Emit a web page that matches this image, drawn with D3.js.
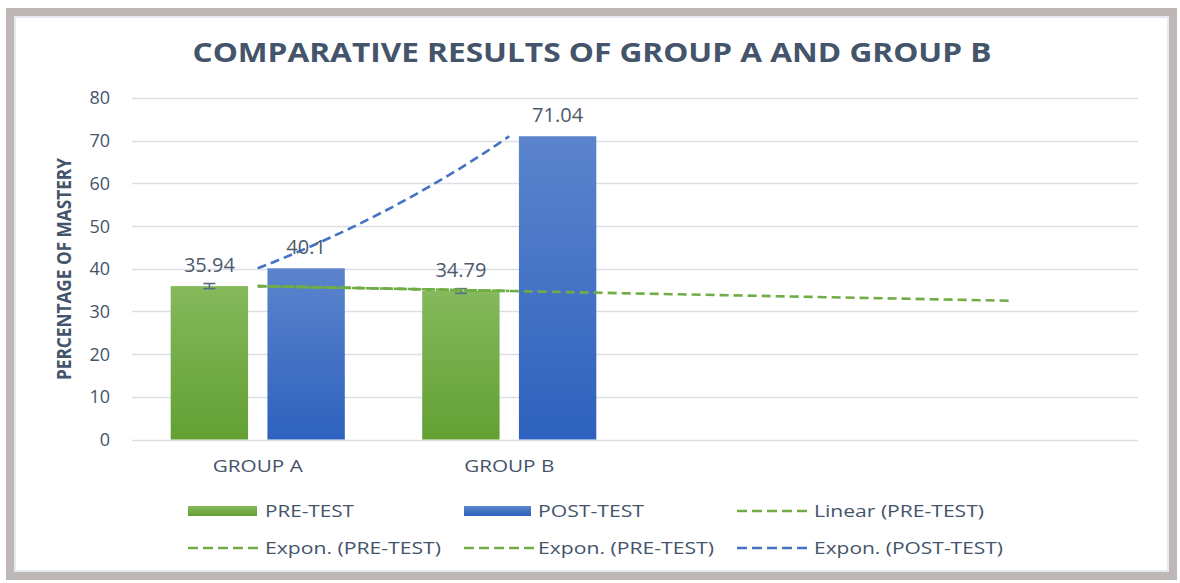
<!DOCTYPE html>
<html>
<head>
<meta charset="utf-8">
<script src="https://cdn.jsdelivr.net/npm/d3@7"></script>
<style>
  html, body { margin: 0; padding: 0; background: #ffffff; }
  svg { display: block; }
  text { font-family: "Open Sans", "Liberation Sans", sans-serif; }
</style>
</head>
<body>
<svg id="chart" width="1180" height="583"></svg>
<script>
// ---------------- data ----------------
const categories = ["GROUP A", "GROUP B", "", ""];
const seriesNames = ["PRE-TEST", "POST-TEST"];
const preTest = [35.94, 34.79];
const postTest = [40.1, 71.04];
const preErrors = [0.6, 0.55];
const yTicks = [0, 10, 20, 30, 40, 50, 60, 70, 80];
const legendRow1 = ["PRE-TEST", "POST-TEST", "Linear (PRE-TEST)"];
const legendRow2 = ["Expon. (PRE-TEST)", "Expon. (PRE-TEST)", "Expon. (POST-TEST)"];
const titleText = "COMPARATIVE RESULTS OF GROUP A AND GROUP B";
const yTitle = "PERCENTAGE OF MASTERY";

// ---------------- setup ----------------
const svg = d3.select("#chart");
const textColor = "#44546a";
const green = "#70ad47", blue = "#4472c4";

function fitText(sel, len) {
  sel.attr("textLength", len).attr("lengthAdjust", "spacingAndGlyphs");
  return sel;
}

// frame
svg.append("rect").attr("x", 10).attr("y", 12).attr("width", 1163).attr("height", 564)
  .attr("fill", "#ffffff").attr("stroke", "#bdb8b6").attr("stroke-width", 8);
svg.append("rect").attr("x", 15).attr("y", 17).attr("width", 1153).attr("height", 554)
  .attr("fill", "none").attr("stroke", "#dde4ec").attr("stroke-width", 1.5);

const defs = svg.append("defs");
function grad(id, top, bottom) {
  const g = defs.append("linearGradient").attr("id", id)
    .attr("x1", 0).attr("y1", 0).attr("x2", 0).attr("y2", 1);
  g.append("stop").attr("offset", "0%").attr("stop-color", top);
  g.append("stop").attr("offset", "100%").attr("stop-color", bottom);
}
grad("gGreen", "#85b95c", "#62a033");
grad("gBlue", "#5b84cc", "#2e62be");

// scales
const x = d3.scaleBand().domain(d3.range(categories.length)).range([132, 1138]).padding(0);
const xs = d3.scaleBand().domain(seriesNames).range([0, x.bandwidth()]).paddingInner(0.2).paddingOuter(0.4);
const y = d3.scaleLinear().domain([0, 80]).range([439.5, 98]);

// title
fitText(svg.append("text").attr("x", 592).attr("y", 62).attr("text-anchor", "middle")
  .attr("font-size", 27).attr("font-weight", 700).attr("fill", textColor).text(titleText), 799);

// gridlines
svg.append("g").selectAll("line").data(yTicks).join("line")
  .attr("x1", 132).attr("x2", 1138)
  .attr("y1", d => Math.round(y(d)) + 0.5).attr("y2", d => Math.round(y(d)) + 0.5)
  .attr("stroke", "#dbe0e7").attr("stroke-width", 1.5);

// y tick labels
svg.append("g").selectAll("text").data(yTicks).join("text")
  .attr("x", 110).attr("y", d => y(d)).attr("dy", "0.36em").attr("text-anchor", "end")
  .attr("font-size", 18).attr("fill", textColor).text(d => d);

// y title
fitText(svg.append("text").attr("transform", "translate(71,269) rotate(-90)")
  .attr("text-anchor", "middle").attr("font-size", 19).attr("font-weight", 700)
  .attr("fill", textColor).text(yTitle), 222);

// category labels
svg.append("g").selectAll("text").data(categories.map((c, i) => ({c, i})).filter(d => d.c))
  .join("text")
  .attr("x", d => x(d.i) + x.bandwidth() / 2).attr("y", 472).attr("text-anchor", "middle")
  .attr("font-size", 17).attr("fill", textColor)
  .each(function (d) { fitText(d3.select(this), 90); })
  .text(d => d.c);

// bars
const barData = [];
preTest.forEach((v, i) => barData.push({ i, s: "PRE-TEST", v }));
postTest.forEach((v, i) => barData.push({ i, s: "POST-TEST", v }));
svg.append("g").selectAll("rect").data(barData).join("rect")
  .attr("x", d => x(d.i) + xs(d.s))
  .attr("y", d => y(d.v))
  .attr("width", xs.bandwidth())
  .attr("height", d => y(0) - y(d.v))
  .attr("fill", d => d.s === "PRE-TEST" ? "url(#gGreen)" : "url(#gBlue)");

// error bars on pre-test
const eb = svg.append("g").attr("stroke", "#5b6b82").attr("stroke-width", 1.6);
preTest.forEach((v, i) => {
  const cx = x(i) + xs("PRE-TEST") + xs.bandwidth() / 2;
  const e = preErrors[i];
  eb.append("line").attr("x1", cx).attr("x2", cx).attr("y1", y(v + e)).attr("y2", y(v - e));
  eb.append("line").attr("x1", cx - 6).attr("x2", cx + 6).attr("y1", y(v + e)).attr("y2", y(v + e));
  eb.append("line").attr("x1", cx - 6).attr("x2", cx + 6).attr("y1", y(v - e)).attr("y2", y(v - e));
});

// trendlines
const cxCat = t => x(0) + x.bandwidth() / 2 + t * x.step();
const line = d3.line().x(d => cxCat(d[0])).y(d => y(d[1]));
const steps = d3.range(0, 1.0001, 0.05);

// linear fit of pre-test (x = 0,1), extended to last category
const slope = preTest[1] - preTest[0];
const linPts = [[0, preTest[0]], [categories.length - 1, preTest[0] + slope * (categories.length - 1)]];
// exponential fits
const expPre = steps.map(t => [t, preTest[0] * Math.pow(preTest[1] / preTest[0], t)]);
const expPost = steps.map(t => [t, postTest[0] * Math.pow(postTest[1] / postTest[0], t)]);

const tg = svg.append("g").attr("fill", "none").attr("stroke-width", 2.6).attr("stroke-dasharray", "9,5");
tg.append("path").attr("d", line(linPts)).attr("stroke", green);
tg.append("path").attr("d", line(expPre)).attr("stroke", green);
tg.append("path").attr("d", line(expPre)).attr("stroke", green).attr("stroke-dashoffset", 4);
tg.append("path").attr("d", line(expPost)).attr("stroke", blue);

// data labels
svg.append("g").selectAll("text").data(barData).join("text")
  .attr("x", d => x(d.i) + xs(d.s) + xs.bandwidth() / 2)
  .attr("y", d => y(d.v) - 14)
  .attr("text-anchor", "middle").attr("font-size", 20).attr("fill", "#4d5a6c")
  .text(d => d.v);

// legend
const legX = [188, 464, 737];
const legTextX = [265, 538, 814];
const row1Y = 511, row2Y = 548;
const leg = svg.append("g");
// row 1
leg.append("rect").attr("x", legX[0]).attr("y", row1Y - 5).attr("width", 69).attr("height", 10).attr("fill", "url(#gGreen)");
leg.append("rect").attr("x", legX[1]).attr("y", row1Y - 5).attr("width", 67).attr("height", 10).attr("fill", "url(#gBlue)");
leg.append("line").attr("x1", legX[2]).attr("x2", legX[2] + 70).attr("y1", row1Y).attr("y2", row1Y)
  .attr("stroke", green).attr("stroke-width", 2.6).attr("stroke-dasharray", "10,5");
// row 2
[green, green, blue].forEach((c, k) => {
  leg.append("line").attr("x1", legX[k]).attr("x2", legX[k] + 70).attr("y1", row2Y).attr("y2", row2Y)
    .attr("stroke", c).attr("stroke-width", 2.6).attr("stroke-dasharray", "10,5");
});
const row1W = [89, 106, 170];
const row2W = [176, 176, 189];
legendRow1.forEach((t, k) => {
  fitText(leg.append("text").attr("x", legTextX[k]).attr("y", row1Y).attr("dy", "0.36em")
    .attr("font-size", 17).attr("fill", textColor).text(t), row1W[k]);
});
legendRow2.forEach((t, k) => {
  fitText(leg.append("text").attr("x", legTextX[k]).attr("y", row2Y).attr("dy", "0.36em")
    .attr("font-size", 17).attr("fill", textColor).text(t), row2W[k]);
});
</script>
</body>
</html>
